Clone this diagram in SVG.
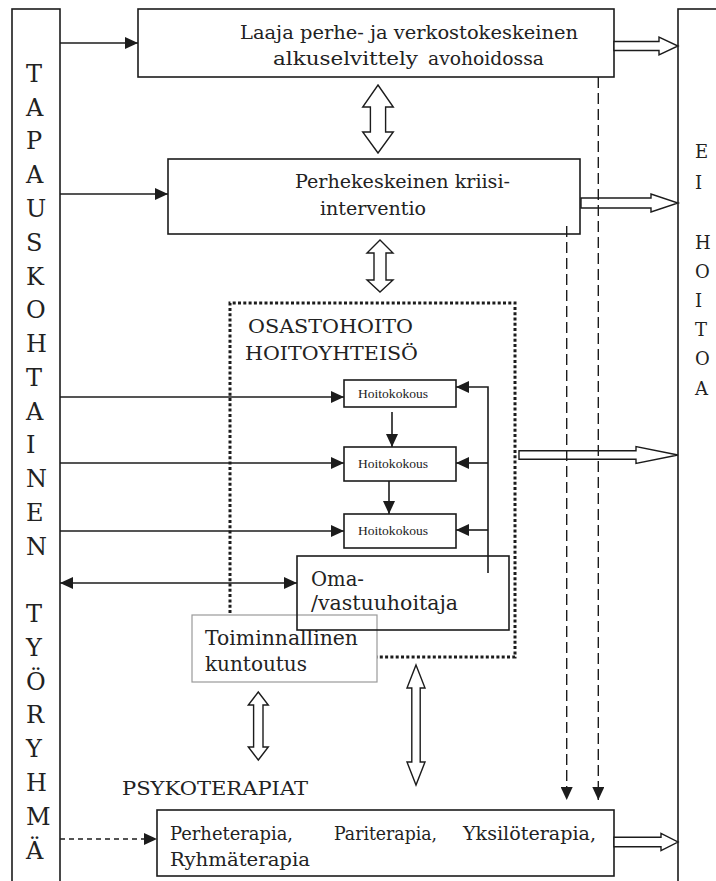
<svg xmlns="http://www.w3.org/2000/svg" width="716" height="881" viewBox="0 0 716 881">
  <style>
    .box { fill: #fff; stroke: #1c1c1c; stroke-width: 1.6; }
    .gray { fill: #fff; stroke: #9a9a9a; stroke-width: 1.2; }
    .line { fill: none; stroke: #1c1c1c; stroke-width: 1.6; }
    .dash { fill: none; stroke: #1c1c1c; stroke-width: 1.4; stroke-dasharray: 11 5; }
    .dash2 { fill: none; stroke: #1c1c1c; stroke-width: 1.4; stroke-dasharray: 5 4; }
    .dots { fill: none; stroke: #1c1c1c; stroke-width: 3; stroke-dasharray: 3 2.3; }
    .hollow { fill: #fff; stroke: #1c1c1c; stroke-width: 1.4; stroke-linejoin: miter; }
    text { font-family: "DejaVu Serif", "Liberation Serif", serif; fill: #222; }
    .t19 { font-size: 19px; }
    .t20 { font-size: 20px; }
    .col { font-size: 24px; }
    .colr { font-size: 18px; }
    .small { font-family: "Liberation Serif", "Times New Roman", serif; font-size: 13px; }
  </style>
  <defs>
    <marker id="head" viewBox="0 0 13 12" refX="13" refY="6" markerWidth="13" markerHeight="12" markerUnits="userSpaceOnUse" orient="auto-start-reverse">
      <path d="M0,0 L13,6 L0,12 Z" fill="#1c1c1c"/>
    </marker>
  </defs>

  <!-- side columns -->
  <g id="tapauskohtainen">
    <rect class="box" x="12" y="9" width="48" height="900"/>
    <g class="col">
      <text x="26" y="82">T</text>
      <text x="26" y="116">A</text>
      <text x="26" y="149">P</text>
      <text x="26" y="183">A</text>
      <text x="26" y="217">U</text>
      <text x="26" y="251">S</text>
      <text x="26" y="285">K</text>
      <text x="26" y="318">O</text>
      <text x="26" y="352">H</text>
      <text x="26" y="386">T</text>
      <text x="26" y="420">A</text>
      <text x="26" y="453">I</text>
      <text x="26" y="487">N</text>
      <text x="26" y="521">E</text>
      <text x="26" y="555">N</text>
      <text x="26" y="622">T</text>
      <text x="26" y="656">Y</text>
      <text x="26" y="690">Ö</text>
      <text x="26" y="723">R</text>
      <text x="26" y="757">Y</text>
      <text x="26" y="791">H</text>
      <text x="26" y="825">M</text>
      <text x="26" y="859">Ä</text>
    </g>
  </g>
  <g id="ei-hoitoa">
    <rect class="box" x="678" y="9" width="60" height="900"/>
    <g class="colr">
      <text x="695" y="158">E</text>
      <text x="695" y="189">I</text>
      <text x="695" y="249">H</text>
      <text x="695" y="278">O</text>
      <text x="695" y="307">I</text>
      <text x="695" y="336">T</text>
      <text x="695" y="365">O</text>
      <text x="695" y="395">A</text>
    </g>
  </g>

  <!-- ward / care community frame -->
  <g id="osastohoito">
    <path class="dots" d="M230,613 V303 H515 V657 H377"/>
    <text class="t19" x="248" y="333" textLength="165" lengthAdjust="spacingAndGlyphs">OSASTOHOITO</text>
    <text class="t19" x="245" y="360" textLength="173" lengthAdjust="spacingAndGlyphs">HOITOYHTEISÖ</text>
  </g>

  <g id="alkuselvittely">
    <rect class="box" x="138" y="9" width="476" height="68"/>
    <text class="t19" x="240" y="39" textLength="338" lengthAdjust="spacingAndGlyphs">Laaja perhe- ja verkostokeskeinen</text>
    <text class="t19" x="273" y="65" textLength="145" lengthAdjust="spacingAndGlyphs">alkuselvittely</text>
    <text class="t19" x="428" y="65" textLength="116" lengthAdjust="spacingAndGlyphs">avohoidossa</text>
  </g>

  <g id="kriisiinterventio">
    <rect class="box" x="168" y="159" width="412" height="75"/>
    <text class="t19" x="295" y="188" textLength="215" lengthAdjust="spacingAndGlyphs">Perhekeskeinen kriisi-</text>
    <text class="t19" x="320" y="215" textLength="106" lengthAdjust="spacingAndGlyphs">interventio</text>
  </g>

  <g id="hoitokokous-1">
    <rect class="box" x="344" y="380" width="112" height="27"/>
    <text class="small" x="358" y="398" textLength="70" lengthAdjust="spacingAndGlyphs">Hoitokokous</text>
  </g>
  <g id="hoitokokous-2">
    <rect class="box" x="344" y="447" width="112" height="34"/>
    <text class="small" x="358" y="468" textLength="70" lengthAdjust="spacingAndGlyphs">Hoitokokous</text>
  </g>
  <g id="hoitokokous-3">
    <rect class="box" x="344" y="514" width="112" height="34"/>
    <text class="small" x="358" y="535" textLength="70" lengthAdjust="spacingAndGlyphs">Hoitokokous</text>
  </g>

  <g id="toiminnallinen-kuntoutus">
    <rect class="gray" x="192" y="615" width="185" height="67"/>
    <text class="t20" x="205" y="645" textLength="153" lengthAdjust="spacingAndGlyphs">Toiminnallinen</text>
    <text class="t20" x="205" y="671" textLength="102" lengthAdjust="spacingAndGlyphs">kuntoutus</text>
  </g>

  <g id="omahoitaja">
    <rect class="box" x="297" y="556" width="212" height="74" style="fill:none"/>
    <text class="t20" x="311" y="586" textLength="53" lengthAdjust="spacingAndGlyphs">Oma-</text>
    <text class="t20" x="311" y="610" textLength="147" lengthAdjust="spacingAndGlyphs">/vastuuhoitaja</text>
  </g>

  <g id="psykoterapiat">
    <text class="t19" x="122" y="795" textLength="186" lengthAdjust="spacingAndGlyphs">PSYKOTERAPIAT</text>
    <rect class="box" x="157" y="810" width="457" height="66"/>
    <text class="t19" x="170" y="840" textLength="123" lengthAdjust="spacingAndGlyphs">Perheterapia,</text>
    <text class="t19" x="334" y="840" textLength="103" lengthAdjust="spacingAndGlyphs">Pariterapia,</text>
    <text class="t19" x="463" y="840" textLength="133" lengthAdjust="spacingAndGlyphs">Yksilöterapia,</text>
    <text class="t19" x="170" y="866" textLength="140" lengthAdjust="spacingAndGlyphs">Ryhmäterapia</text>
  </g>

  <g id="connectors">
    <!-- hollow arrows to "no treatment" -->
    <polygon class="hollow" points="614,41.5 659,41.5 659,37 678,46 659,55 659,50.5 614,50.5"/>
    <polygon class="hollow" points="581,198 651,198 651,194 678,203 651,212 651,208 581,208"/>
    <polygon class="hollow" points="519,450.7 636,450.7 636,446.5 678,455 636,463.5 636,459.3 519,459.3"/>
    <polygon class="hollow" points="614,837.3 661,837.3 661,833.3 678,842 661,850.7 661,846.7 614,846.7"/>

    <!-- hollow two-way arrows -->
    <polygon class="hollow" points="378,85 393.3,107 385.6,107 385.6,132 393.3,132 378,153 362.7,132 370.4,132 370.4,107 362.7,107"/>
    <polygon class="hollow" points="380,240 393,253 386,253 386,280 393,280 380,292 367,280 374,280 374,253 367,253"/>
    <polygon class="hollow" points="258.3,692 268.3,705 263,705 263,747 268.3,747 258.3,760 248.3,747 253.6,747 253.6,705 248.3,705"/>
    <polygon class="hollow" points="416,665 425,688 420.2,688 420.2,762 425,762 416,785 407,762 411.8,762 411.8,688 407,688"/>

    <!-- team to units -->
    <path class="line" d="M60,43 H138" marker-end="url(#head)"/>
    <path class="line" d="M60,194 H168" marker-end="url(#head)"/>
    <path class="line" d="M60,397 H344" marker-end="url(#head)"/>
    <path class="line" d="M60,463 H344" marker-end="url(#head)"/>
    <path class="line" d="M60,531 H344" marker-end="url(#head)"/>
    <path class="line" d="M60,583 H297" marker-start="url(#head)" marker-end="url(#head)"/>
    <path class="dash2" d="M60,839 H157" marker-end="url(#head)"/>

    <!-- meeting chain -->
    <path class="line" d="M392,412 V447" marker-end="url(#head)"/>
    <path class="line" d="M389,481 V514" marker-end="url(#head)"/>
    <path class="line" d="M488,573 V387 H456" marker-end="url(#head)"/>
    <path class="line" d="M488,463 H456" marker-end="url(#head)"/>
    <path class="line" d="M488,530 H456" marker-end="url(#head)"/>

    <!-- referrals to psychotherapy -->
    <path class="dash" d="M598.3,77 V800" marker-end="url(#head)"/>
    <path class="dash" d="M566.7,226 V800" marker-end="url(#head)"/>
  </g>
</svg>
